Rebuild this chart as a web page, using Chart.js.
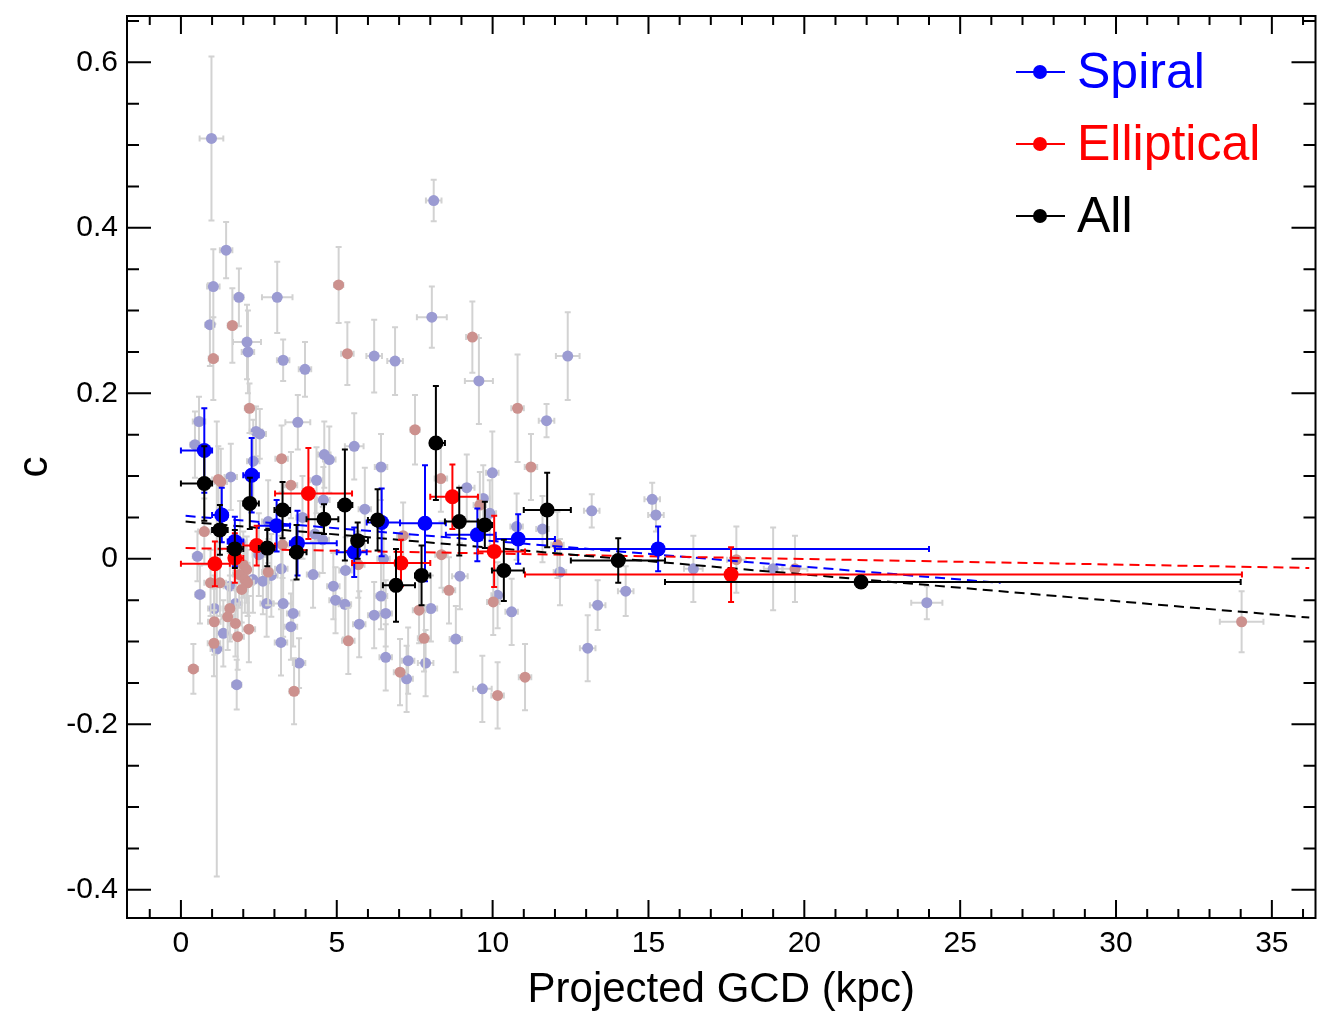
<!DOCTYPE html>
<html>
<head>
<meta charset="utf-8">
<title>c vs projected GCD</title>
<script src="https://cdn.jsdelivr.net/npm/chart.js@4.4.1/dist/chart.umd.min.js"></script>
<style>
  html, body { margin: 0; padding: 0; background: #fff; }
  #chart-wrap { width: 1323px; height: 1011px; }
</style>
</head>
<body>
<div id="chart-wrap"><canvas id="gcd-chart" width="1323" height="1011"></canvas></div>
<script>
// individual clusters in spiral hosts: projected GCD (kpc), c, error in c, error in GCD
const spiralX = [0.98, 8.11, 1.45, 1.04, 1.86, 3.09, 0.93, 2.12, 2.15, 3.28, 3.98, 6.20, 6.87, 8.05, 9.56, 11.73, 12.41, 0.58, 3.75, 2.41,
  2.53, 0.45, 5.56, 2.32, 4.60, 4.76, 6.42, 9.99, 1.60, 4.35, 9.17, 4.57, 11.60, 4.55, 0.53, 3.22, 4.24, 5.28, 6.42, 8.95,
  0.61, 1.75, 2.75, 3.28, 3.60, 3.53, 4.89, 4.96, 5.26, 5.72, 6.20, 6.57, 8.02, 10.61, 10.16, 12.16, 3.21, 8.82, 3.79, 6.57,
  7.29, 7.85, 1.36, 2.31, 2.63, 1.57, 1.07, 1.15, 1.79, 7.24, 9.67, 13.05, 13.37, 13.18, 15.12, 15.24, 14.27, 16.44, 19.00, 23.93,
  10.77, 9.70, 9.91, 2.80, 1.90, 2.50, 2.90, 3.90, 4.30, 5.90, 6.50];
const spiralC = [0.508, 0.433, 0.373, 0.329, 0.316, 0.316, 0.283, 0.262, 0.250, 0.240, 0.229, 0.245, 0.239, 0.292, 0.215, 0.167, 0.245, 0.166, 0.165, 0.154,
  0.151, 0.138, 0.136, 0.118, 0.126, 0.120, 0.111, 0.104, 0.099, 0.095, 0.086, 0.071, 0.036, 0.023, 0.003, -0.012, -0.019, -0.014, -0.045, -0.021,
  -0.043, -0.054, -0.054, -0.054, -0.066, -0.082, -0.033, -0.050, -0.055, -0.079, -0.068, -0.066, -0.060, -0.064, -0.044, -0.016, -0.101, -0.097, -0.126, -0.119,
  -0.123, -0.126, -0.090, -0.025, -0.027, -0.033, -0.060, -0.109, -0.152, -0.145, -0.157, -0.108, -0.056, 0.058, 0.072, 0.053, -0.039, -0.012, -0.012, -0.053,
  0.039, 0.073, 0.055, 0.045, 0.020, 0.005, -0.020, 0.050, 0.030, 0.060, 0.000];
const spiralCErr = [0.099, 0.025, 0.034, 0.045, 0.035, 0.043, 0.050, 0.045, 0.050, 0.025, 0.033, 0.044, 0.041, 0.037, 0.052, 0.020, 0.053, 0.030, 0.033, 0.030,
  0.030, 0.040, 0.040, 0.050, 0.040, 0.040, 0.040, 0.050, 0.040, 0.040, 0.040, 0.040, 0.040, 0.040, 0.030, 0.040, 0.040, 0.040, 0.040, 0.040,
  0.035, 0.040, 0.040, 0.040, 0.040, 0.040, 0.040, 0.040, 0.040, 0.040, 0.040, 0.040, 0.040, 0.040, 0.040, 0.040, 0.040, 0.040, 0.030, 0.040,
  0.040, 0.040, 0.040, 0.040, 0.040, 0.040, 0.040, 0.275, 0.030, 0.040, 0.040, 0.040, 0.030, 0.020, 0.020, 0.020, 0.030, 0.040, 0.050, 0.020,
  0.040, 0.040, 0.040, 0.050, 0.050, 0.050, 0.050, 0.050, 0.050, 0.050, 0.050];
const spiralXErr = [0.38, 0.25, 0.20, 0.20, 0.15, 0.49, 0.15, 0.45, 0.20, 0.20, 0.20, 0.25, 0.25, 0.48, 0.45, 0.25, 0.38, 0.20, 0.40, 0.20,
  0.20, 0.15, 0.30, 0.20, 0.20, 0.20, 0.20, 0.20, 0.20, 0.20, 0.25, 0.20, 0.20, 0.20, 0.15, 0.20, 0.20, 0.20, 0.20, 0.25,
  0.15, 0.20, 0.20, 0.30, 0.20, 0.20, 0.20, 0.20, 0.20, 0.20, 0.20, 0.20, 0.20, 0.20, 0.20, 0.20, 0.20, 0.20, 0.20, 0.20,
  0.20, 0.25, 0.20, 0.20, 0.20, 0.20, 0.20, 0.20, 0.15, 0.20, 0.30, 0.25, 0.25, 0.25, 0.25, 0.25, 0.25, 0.30, 0.30, 0.50,
  0.20, 0.20, 0.20, 0.20, 0.20, 0.20, 0.20, 0.20, 0.20, 0.20, 0.20];

// individual clusters in elliptical hosts
const ellX = [5.06, 1.65, 1.04, 5.34, 9.35, 2.20, 10.80, 7.51, 3.23, 11.23, 1.20, 1.28, 3.53, 8.34, 9.59, 0.75, 7.13, 3.26, 8.36, 2.00,
  2.11, 1.87, 2.05, 2.14, 0.95, 1.25, 1.95, 1.57, 1.50, 1.75, 1.07, 1.82, 2.18, 1.06, 2.80, 5.69, 7.64, 8.60, 10.02, 5.37,
  7.80, 0.40, 7.03, 11.04, 3.63, 10.16, 12.08, 17.82, 19.70, 34.03];
const ellC = [0.331, 0.282, 0.242, 0.248, 0.268, 0.182, 0.182, 0.156, 0.121, 0.111, 0.096, 0.093, 0.089, 0.097, 0.065, 0.033, 0.028, 0.017, 0.005, -0.007,
  -0.013, -0.019, -0.025, -0.029, -0.029, -0.029, -0.037, -0.060, -0.070, -0.078, -0.076, -0.094, -0.085, -0.102, -0.016, -0.007, -0.062, -0.038, -0.052, -0.099,
  -0.096, -0.133, -0.137, -0.143, -0.160, -0.165, 0.017, -0.001, -0.012, -0.076];
const ellCErr = [0.046, 0.045, 0.050, 0.038, 0.043, 0.030, 0.065, 0.042, 0.040, 0.040, 0.040, 0.040, 0.040, 0.040, 0.040, 0.040, 0.040, 0.040, 0.040, 0.040,
  0.040, 0.040, 0.040, 0.040, 0.040, 0.040, 0.040, 0.040, 0.040, 0.040, 0.040, 0.040, 0.040, 0.040, 0.040, 0.040, 0.040, 0.040, 0.040, 0.040,
  0.040, 0.030, 0.040, 0.040, 0.040, 0.040, 0.040, 0.040, 0.040, 0.037];
const ellXErr = [0.15, 0.15, 0.15, 0.20, 0.20, 0.15, 0.20, 0.15, 0.20, 0.20, 0.20, 0.20, 0.20, 0.20, 0.20, 0.20, 0.20, 0.20, 0.20, 0.20,
  0.20, 0.20, 0.20, 0.20, 0.20, 0.20, 0.20, 0.20, 0.20, 0.20, 0.20, 0.20, 0.20, 0.20, 0.20, 0.20, 0.20, 0.20, 0.20, 0.20,
  0.20, 0.15, 0.20, 0.20, 0.15, 0.20, 0.20, 0.30, 0.40, 0.70];

// binned means: centre, c, error in c, bin edges
const spiralBinX = [0.75, 1.31, 1.73, 2.27, 3.07, 3.74, 5.56, 6.44, 7.83, 9.51, 10.82, 15.31];
const spiralBinC = [0.131, 0.053, 0.021, 0.101, 0.040, 0.019, 0.008, 0.044, 0.043, 0.029, 0.024, 0.012];
const spiralBinErr = [0.051, 0.033, 0.030, 0.045, 0.031, 0.039, 0.030, 0.041, 0.070, 0.032, 0.030, 0.027];
const spiralBinLo = [0.00, 1.00, 1.50, 2.00, 2.50, 3.50, 5.00, 5.96, 7.03, 8.50, 10.10, 12.00];
const spiralBinHi = [1.00, 1.50, 2.00, 2.50, 3.50, 5.00, 5.96, 7.03, 8.50, 10.10, 12.00, 24.00];

const ellBinX = [1.09, 1.73, 2.43, 4.09, 7.06, 8.71, 10.05, 17.65];
const ellBinC = [-0.006, 0.001, 0.016, 0.079, -0.005, 0.075, 0.009, -0.019];
const ellBinErr = [0.027, 0.030, 0.024, 0.055, 0.028, 0.039, 0.043, 0.033];
const ellBinLo = [0.00, 1.57, 2.00, 3.02, 5.49, 8.00, 9.53, 11.04];
const ellBinHi = [1.57, 2.00, 3.02, 5.49, 8.00, 9.53, 11.04, 34.04];

const allBinX = [0.75, 1.25, 1.73, 2.21, 2.77, 3.26, 3.71, 4.59, 5.26, 5.67, 6.31, 6.90, 7.72, 8.18, 8.93, 9.75, 10.36, 11.75, 14.03, 21.82];
const allBinC = [0.091, 0.035, 0.012, 0.067, 0.013, 0.059, 0.008, 0.048, 0.065, 0.022, 0.047, -0.032, -0.020, 0.140, 0.045, 0.041, -0.014, 0.059, -0.002, -0.028];
const allBinErr = [0.045, 0.030, 0.023, 0.031, 0.022, 0.034, 0.033, 0.018, 0.067, 0.022, 0.037, 0.044, 0.036, 0.069, 0.041, 0.028, 0.037, 0.045, 0.027, 0.007];
const allBinLo = [0.00, 1.00, 1.50, 2.00, 2.50, 3.00, 3.50, 4.03, 5.05, 5.50, 6.00, 6.48, 7.51, 8.00, 8.47, 9.53, 9.98, 11.00, 12.51, 15.53];
const allBinHi = [1.00, 1.50, 2.00, 2.50, 3.00, 3.50, 4.03, 5.05, 5.50, 6.00, 6.48, 7.51, 8.00, 8.47, 9.53, 9.98, 11.00, 12.51, 15.53, 34.00];

// linear fits (end points)
const spiralFitX = [0.15, 26.3];
const spiralFitC = [0.052, -0.029];
const ellFitX = [0.15, 36.2];
const ellFitC = [0.013, -0.011];
const allFitX = [0.15, 36.2];
const allFitC = [0.045, -0.071];

// axes
const xRange = [-1.73, 36.4];
const yRange = [-0.434, 0.656];
const xTickValues = [0, 5, 10, 15, 20, 25, 30, 35];
const yTickValues = [0.6, 0.4, 0.2, 0, -0.2, -0.4];
const yTickLabels = ['0.6', '0.4', '0.2', '0', '-0.2', '-0.4'];

const legendLabels = ['Spiral', 'Elliptical', 'All'];
const legendColors = ['#0000ff', '#ff0000', '#000000'];

const FONT = "'Liberation Sans', Arial, Helvetica, sans-serif";

const makePoints = (xs, ys, yErr, xErr) => xs.map((x, i) => ({
    x, y: ys[i], xLo: x - xErr[i], xHi: x + xErr[i], yLo: ys[i] - yErr[i], yHi: ys[i] + yErr[i]
}));
const makeBins = (xs, ys, yErr, lo, hi) => xs.map((x, i) => ({
    x, y: ys[i], xLo: lo[i], xHi: hi[i], yLo: ys[i] - yErr[i], yHi: ys[i] + yErr[i]
}));
const makeLine = (xs, ys) => xs.map((x, i) => ({ x, y: ys[i] }));

// error bars drawn just before each dataset's points
const errorBarPlugin = {
    id: 'errorBars',
    beforeDatasetDraw(chart, args) {
        const ds = chart.data.datasets[args.index];
        if (!ds.errorColor) return;
        const { ctx, chartArea: a, scales: { x, y } } = chart;
        const cap = ds.capSize;
        ctx.save();
        ctx.beginPath();
        ctx.rect(a.left, a.top, a.width, a.height);
        ctx.clip();
        ctx.strokeStyle = ds.errorColor;
        ctx.lineWidth = ds.errorWidth;
        ds.data.forEach(p => {
            const px = x.getPixelForValue(p.x), py = y.getPixelForValue(p.y);
            const x0 = x.getPixelForValue(p.xLo), x1 = x.getPixelForValue(p.xHi);
            const y0 = y.getPixelForValue(p.yLo), y1 = y.getPixelForValue(p.yHi);
            ctx.beginPath();
            ctx.moveTo(x0, py); ctx.lineTo(x1, py);
            ctx.moveTo(px, y0); ctx.lineTo(px, y1);
            ctx.moveTo(x0, py - cap); ctx.lineTo(x0, py + cap);
            ctx.moveTo(x1, py - cap); ctx.lineTo(x1, py + cap);
            ctx.moveTo(px - cap, y0); ctx.lineTo(px + cap, y0);
            ctx.moveTo(px - cap, y1); ctx.lineTo(px + cap, y1);
            ctx.stroke();
        });
        ctx.restore();
    }
};

// box frame with inward ticks on all four sides, plus the legend
const framePlugin = {
    id: 'frame',
    afterDraw(chart) {
        const { ctx, chartArea: a, scales: { x, y } } = chart;
        ctx.save();
        ctx.strokeStyle = '#000';
        ctx.lineWidth = 2;
        ctx.strokeRect(a.left, a.top, a.width, a.height);

        ctx.beginPath();
        for (let v = -1; v <= 36; v++) {
            const px = x.getPixelForValue(v);
            const len = xTickValues.includes(v) ? 18 : 9;
            ctx.moveTo(px, a.bottom); ctx.lineTo(px, a.bottom - len);
            ctx.moveTo(px, a.top); ctx.lineTo(px, a.top + len);
        }
        for (let k = -8; k <= 13; k++) {
            const v = k * 0.05;
            const py = y.getPixelForValue(v);
            const len = k % 4 === 0 ? 24 : 12;
            ctx.moveTo(a.left, py); ctx.lineTo(a.left + len, py);
            ctx.moveTo(a.right, py); ctx.lineTo(a.right - len, py);
        }
        ctx.stroke();

        // legend
        ctx.font = `50px ${FONT}`;
        ctx.textBaseline = 'alphabetic';
        ctx.textAlign = 'left';
        legendLabels.forEach((label, i) => {
            const rowY = 72 + i * 72;
            ctx.strokeStyle = legendColors[i];
            ctx.fillStyle = legendColors[i];
            ctx.lineWidth = 2;
            ctx.beginPath();
            ctx.moveTo(1016, rowY); ctx.lineTo(1065, rowY);
            ctx.stroke();
            ctx.beginPath();
            ctx.arc(1040, rowY, 7, 0, Math.PI * 2);
            ctx.fill();
            ctx.fillText(label, 1077, rowY + 16);
        });
        ctx.restore();
    }
};

const ctx = document.getElementById('gcd-chart').getContext('2d');
new Chart(ctx, {
    type: 'scatter',
    data: {
        datasets: [
            {
                label: 'Spiral GCs',
                data: makePoints(spiralX, spiralC, spiralCErr, spiralXErr),
                backgroundColor: 'rgb(155,155,210)',
                borderWidth: 0,
                pointRadius: 5.5,
                errorColor: 'rgb(210,210,210)', errorWidth: 2, capSize: 3,
                order: 8
            },
            {
                label: 'Elliptical GCs',
                data: makePoints(ellX, ellC, ellCErr, ellXErr),
                backgroundColor: 'rgb(204,145,142)',
                borderWidth: 0,
                pointRadius: 5.5,
                errorColor: 'rgb(210,210,210)', errorWidth: 2, capSize: 3,
                order: 7
            },
            {
                type: 'line', label: 'Spiral fit', data: makeLine(spiralFitX, spiralFitC),
                borderColor: '#0000ff', borderWidth: 2, borderDash: [10, 6], pointRadius: 0, fill: false, order: 6
            },
            {
                type: 'line', label: 'Elliptical fit', data: makeLine(ellFitX, ellFitC),
                borderColor: '#ff0000', borderWidth: 2, borderDash: [10, 6], pointRadius: 0, fill: false, order: 5
            },
            {
                type: 'line', label: 'All fit', data: makeLine(allFitX, allFitC),
                borderColor: '#000000', borderWidth: 2, borderDash: [10, 6], pointRadius: 0, fill: false, order: 4
            },
            {
                label: 'Spiral',
                data: makeBins(spiralBinX, spiralBinC, spiralBinErr, spiralBinLo, spiralBinHi),
                backgroundColor: '#0000ff', borderWidth: 0, pointRadius: 7.5,
                errorColor: '#0000ff', errorWidth: 2, capSize: 3,
                order: 3
            },
            {
                label: 'Elliptical',
                data: makeBins(ellBinX, ellBinC, ellBinErr, ellBinLo, ellBinHi),
                backgroundColor: '#ff0000', borderWidth: 0, pointRadius: 7.5,
                errorColor: '#ff0000', errorWidth: 2, capSize: 3,
                order: 2
            },
            {
                label: 'All',
                data: makeBins(allBinX, allBinC, allBinErr, allBinLo, allBinHi),
                backgroundColor: '#000000', borderWidth: 0, pointRadius: 7.5,
                errorColor: '#000000', errorWidth: 2, capSize: 3,
                order: 1
            }
        ]
    },
    options: {
        responsive: false,
        animation: false,
        devicePixelRatio: 1,
        events: [],
        layout: { padding: { left: 0, right: 7, top: 16, bottom: 0 } },
        plugins: {
            legend: { display: false },
            tooltip: { enabled: false }
        },
        scales: {
            x: {
                type: 'linear',
                min: xRange[0],
                max: xRange[1],
                afterBuildTicks: scale => { scale.ticks = xTickValues.map(v => ({ value: v })); },
                afterFit: scale => {
                    scale.height = 93;
                    scale.paddingLeft = 0;
                    scale.paddingRight = 0;
                },
                grid: { display: false, drawTicks: false, tickLength: 0 },
                border: { display: false },
                ticks: {
                    color: '#000', padding: 8, maxRotation: 0,
                    font: { family: FONT, size: 30 },
                    callback: v => String(v)
                },
                title: {
                    display: true, text: 'Projected GCD (kpc)', color: '#000',
                    font: { family: FONT, size: 42, lineHeight: 1 },
                    padding: { top: 0, bottom: 0 }
                }
            },
            y: {
                type: 'linear',
                min: yRange[0],
                max: yRange[1],
                afterBuildTicks: scale => { scale.ticks = yTickValues.map(v => ({ value: v })); },
                afterFit: scale => {
                    scale.width = 127;
                    scale.paddingTop = 0;
                    scale.paddingBottom = 0;
                },
                grid: { display: false, drawTicks: false, tickLength: 0 },
                border: { display: false },
                ticks: {
                    color: '#000', padding: 9,
                    font: { family: FONT, size: 30 },
                    callback: v => yTickLabels[yTickValues.indexOf(v)] ?? ''
                },
                title: {
                    display: true, text: 'c', color: '#000',
                    font: { family: FONT, size: 42, lineHeight: 1 },
                    padding: { top: 14, bottom: 14 }
                }
            }
        }
    },
    plugins: [errorBarPlugin, framePlugin]
});
</script>
</body>
</html>
